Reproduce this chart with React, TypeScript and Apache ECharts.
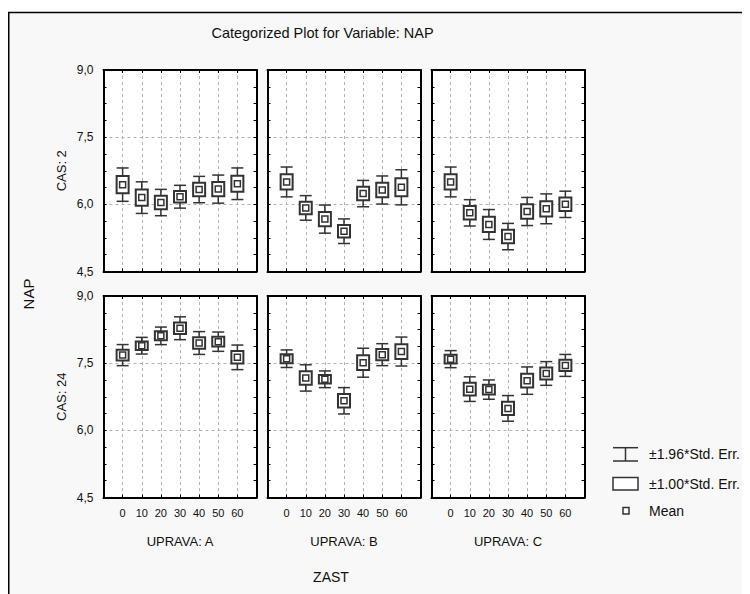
import React, { useEffect, useRef } from "react";
import * as echarts from "echarts";

const cats = ["0", "10", "20", "30", "40", "50", "60"];
const upravy = ["A", "B", "C"];
const casy = ["2", "24"];
const yTicks = [4.5, 6.0, 7.5, 9.0];

// CAS: 2
const meanA2 = [6.44, 6.15, 6.04, 6.17, 6.33, 6.34, 6.46];
const seA2 = [0.19, 0.18, 0.15, 0.13, 0.15, 0.16, 0.18];
const meanB2 = [6.5, 5.92, 5.67, 5.4, 6.24, 6.32, 6.38];
const seB2 = [0.17, 0.14, 0.16, 0.14, 0.15, 0.16, 0.2];
const meanC2 = [6.5, 5.81, 5.55, 5.28, 5.84, 5.9, 6.0];
const seC2 = [0.17, 0.15, 0.17, 0.15, 0.16, 0.17, 0.15];
// CAS: 24
const meanA24 = [7.68, 7.89, 8.11, 8.28, 7.95, 7.98, 7.63];
const seA24 = [0.12, 0.095, 0.1, 0.13, 0.13, 0.11, 0.14];
const meanB24 = [7.6, 7.17, 7.14, 6.66, 7.51, 7.69, 7.76];
const seB24 = [0.1, 0.15, 0.095, 0.15, 0.165, 0.125, 0.165];
const meanC24 = [7.59, 6.92, 6.91, 6.49, 7.11, 7.27, 7.45];
const seC24 = [0.097, 0.14, 0.11, 0.146, 0.156, 0.135, 0.125];

const means = [
  [meanA2, meanB2, meanC2],
  [meanA24, meanB24, meanC24],
];
const ses = [
  [seA2, seB2, seC2],
  [seA24, seB24, seC24],
];

const FONT = "'Liberation Sans', Arial, sans-serif";
const INK = "#333";
const TXT = "#111";

export default function App() {
  const ref = useRef<HTMLDivElement>(null);
  useEffect(() => {
    if (!ref.current) return;
    const chart = echarts.init(ref.current, undefined, { renderer: "svg" });
    const colLeft = [95.5, 259.5, 423.5];
    const rowTop = [62, 288];
    const W = 153;
    const H = 201.5;
    const grids: any[] = [];
    const xAxes: any[] = [];
    const yAxes: any[] = [];
    const series: any[] = [];
    const dash = { type: [3, 3], color: "#b4b4b4", width: 1 };
    const fmtY = (v: number) => v.toFixed(1).replace(".", ",");
    const fmtX = (v: number) => {
      const k = Math.round(v);
      return k >= 0 && k < cats.length ? cats[k] : "";
    };
    let gi = 0;
    for (let r = 0; r < casy.length; r++) {
      for (let c = 0; c < upravy.length; c++) {
        grids.push({
          left: colLeft[c],
          top: rowTop[r],
          width: W,
          height: H,
          show: true,
          backgroundColor: "#fff",
          borderWidth: 0,
        });
        const xBase = {
          gridIndex: gi,
          type: "value",
          min: -1,
          max: 7,
          interval: 1,
          axisLine: { show: true, onZero: false, lineStyle: { color: "#000", width: 2 } },
          axisTick: { show: true, inside: true, length: 3, lineStyle: { color: "#000", width: 1 } },
        };
        xAxes.push({
          ...xBase,
          position: "bottom",
          axisLabel: {
            show: r === 1,
            formatter: fmtX,
            fontSize: 11,
            fontFamily: FONT,
            color: TXT,
            margin: 10,
          },
          splitLine: { show: true, showMinLine: false, showMaxLine: false, lineStyle: dash },
          name: r === 1 ? "UPRAVA: " + upravy[c] : "",
          nameLocation: "middle",
          nameGap: 37,
          nameTextStyle: { fontSize: 13, fontFamily: FONT, color: TXT },
        });
        xAxes.push({
          ...xBase,
          position: "top",
          axisLabel: { show: false },
          splitLine: { show: false },
        });
        const yBase = {
          gridIndex: gi,
          type: "value",
          min: 4.5,
          max: 9,
          interval: 1.5,
          axisLine: { show: true, onZero: false, lineStyle: { color: "#000", width: 2 } },
          axisTick: { show: true, inside: true, length: 3, lineStyle: { color: "#000", width: 1 } },
          minorTick: { show: true, splitNumber: 4, length: 3, lineStyle: { color: "#000", width: 1 } },
        };
        yAxes.push({
          ...yBase,
          position: "left",
          axisLabel: {
            show: c === 0,
            formatter: fmtY,
            fontSize: 12,
            fontFamily: FONT,
            color: TXT,
            margin: 10,
          },
          splitLine: { show: true, showMinLine: false, showMaxLine: false, lineStyle: dash },
          name: c === 0 ? "CAS: " + casy[r] : "",
          nameLocation: "middle",
          nameGap: 36,
          nameRotate: 90,
          nameTextStyle: { fontSize: 13, fontFamily: FONT, color: TXT },
        });
        yAxes.push({
          ...yBase,
          position: "right",
          axisLabel: { show: false },
          splitLine: { show: false },
        });
        const m = means[r][c];
        const s = ses[r][c];
        series.push({
          type: "custom",
          xAxisIndex: 2 * gi,
          yAxisIndex: 2 * gi,
          clip: false,
          data: cats.map((_, k) => [k, m[k], s[k]]),
          renderItem: (params: any, api: any) => {
            const x = api.value(0);
            const mv = api.value(1);
            const sv = api.value(2);
            const pHi = api.coord([x, mv + 1.96 * sv]);
            const pLo = api.coord([x, mv - 1.96 * sv]);
            const bHi = api.coord([x, mv + sv]);
            const bLo = api.coord([x, mv - sv]);
            const pm = api.coord([x, mv]);
            const cx = pm[0];
            return {
              type: "group",
              children: [
                { type: "line", shape: { x1: cx, y1: pHi[1], x2: cx, y2: pLo[1] }, style: { stroke: INK, lineWidth: 1.5 } },
                { type: "line", shape: { x1: cx - 6, y1: pHi[1], x2: cx + 6, y2: pHi[1] }, style: { stroke: INK, lineWidth: 1.5 } },
                { type: "line", shape: { x1: cx - 6, y1: pLo[1], x2: cx + 6, y2: pLo[1] }, style: { stroke: INK, lineWidth: 1.5 } },
                { type: "rect", shape: { x: cx - 6, y: bHi[1], width: 12, height: bLo[1] - bHi[1] }, style: { fill: "#fff", stroke: INK, lineWidth: 2 } },
                { type: "rect", shape: { x: cx - 3, y: pm[1] - 3, width: 6, height: 6 }, style: { fill: "#fff", stroke: INK, lineWidth: 1.5 } },
              ],
            };
          },
        });
        gi++;
      }
    }

    const graphic: any[] = [
      {
        type: "rect",
        z: -10,
        shape: { x: 0.75, y: 4.5, width: 800, height: 700 },
        style: { fill: "#f8f8f8", stroke: "#000", lineWidth: 1.5 },
        silent: true,
      },
      {
        type: "text",
        x: 314.5,
        y: 25,
        style: { text: "Categorized Plot for Variable: NAP", fontSize: 14.5, fontFamily: FONT, fill: TXT, textAlign: "center", textVerticalAlign: "middle" },
      },
      {
        type: "text",
        x: 20,
        y: 286,
        rotation: Math.PI / 2,
        style: { text: "NAP", fontSize: 15, fontFamily: FONT, fill: TXT, textAlign: "center", textVerticalAlign: "middle" },
      },
      {
        type: "text",
        x: 323,
        y: 568.5,
        style: { text: "ZAST", fontSize: 14, fontFamily: FONT, fill: TXT, textAlign: "center", textVerticalAlign: "middle" },
      },
      // legend: whisker
      { type: "line", shape: { x1: 605, y1: 439.7, x2: 630, y2: 439.7 }, style: { stroke: INK, lineWidth: 1.5 } },
      { type: "line", shape: { x1: 605, y1: 453, x2: 630, y2: 453 }, style: { stroke: INK, lineWidth: 1.5 } },
      { type: "line", shape: { x1: 617.5, y1: 439.7, x2: 617.5, y2: 453 }, style: { stroke: INK, lineWidth: 1.5 } },
      {
        type: "text",
        x: 641,
        y: 446.3,
        style: { text: "±1.96*Std. Err.", fontSize: 14, fontFamily: FONT, fill: TXT, textAlign: "left", textVerticalAlign: "middle" },
      },
      // legend: box
      { type: "rect", shape: { x: 605, y: 469.5, width: 25, height: 12.5 }, style: { fill: "#fff", stroke: INK, lineWidth: 1.5 } },
      {
        type: "text",
        x: 641,
        y: 476,
        style: { text: "±1.00*Std. Err.", fontSize: 14, fontFamily: FONT, fill: TXT, textAlign: "left", textVerticalAlign: "middle" },
      },
      // legend: mean
      { type: "rect", shape: { x: 615, y: 499.5, width: 6, height: 6.5 }, style: { fill: "#fff", stroke: INK, lineWidth: 1.5 } },
      {
        type: "text",
        x: 641,
        y: 503,
        style: { text: "Mean", fontSize: 14, fontFamily: FONT, fill: TXT, textAlign: "left", textVerticalAlign: "middle" },
      },
    ];

    chart.setOption({
      animation: false,
      backgroundColor: "#fff",
      grid: grids,
      xAxis: xAxes,
      yAxis: yAxes,
      series,
      graphic,
    });
    return () => chart.dispose();
  }, []);
  return <div ref={ref} style={{ width: 742, height: 586 }} />;
}
